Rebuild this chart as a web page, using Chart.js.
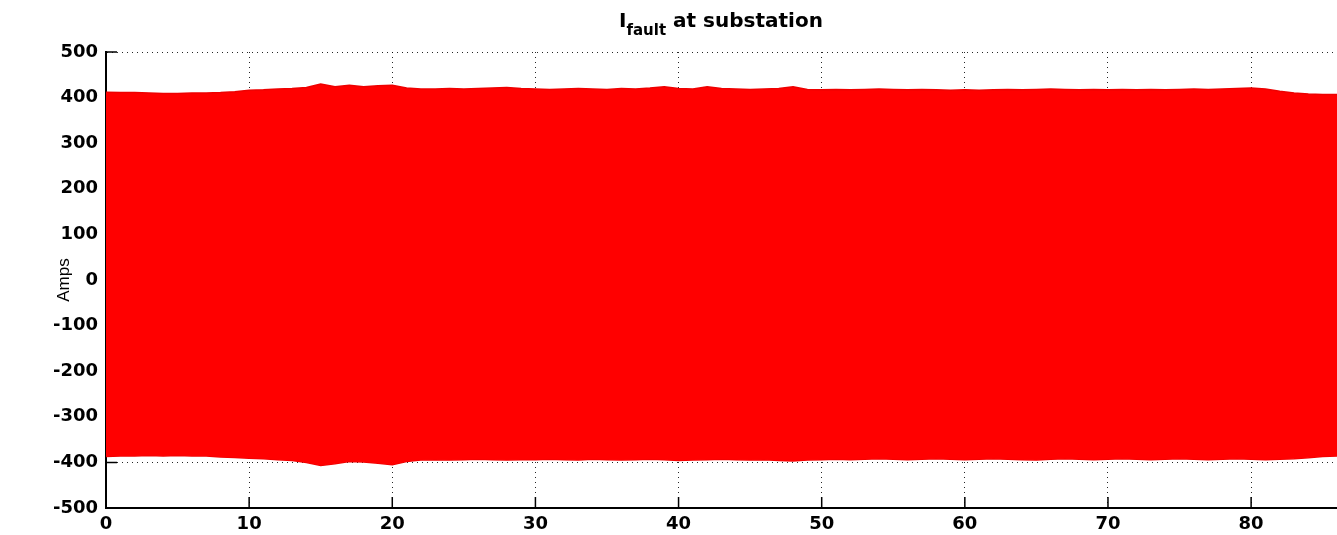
<!DOCTYPE html>
<html lang="en">
<head>
    <meta charset="UTF-8">
    <title>I fault at substation</title>
    <script src="https://cdn.jsdelivr.net/npm/chart.js"></script>
    <style>
        body {
            margin: 0;
            background-color: #ffffff;
            overflow: hidden;
        }
        .wrap {
            position: relative;
            width: 1337px;
            height: 535px;
        }
        .title {
            position: absolute;
            left: 619px;
            top: 8px;
            font: bold 20px 'DejaVu Sans', sans-serif;
            line-height: 24px;
            color: #000;
            white-space: nowrap;
        }
        .title sub {
            font-size: 15px;
            vertical-align: -8px;
        }
    </style>
</head>
<body>
    <div class="wrap">
        <canvas id="faultChart" width="1337" height="535"></canvas>
        <div class="title">I<sub>fault</sub> at substation</div>
    </div>

    <script>
        // time axis (s), one sample per second
        const timeSec = [
            0, 1, 2, 3, 4, 5, 6, 7, 8, 9,
            10, 11, 12, 13, 14, 15, 16, 17, 18, 19,
            20, 21, 22, 23, 24, 25, 26, 27, 28, 29,
            30, 31, 32, 33, 34, 35, 36, 37, 38, 39,
            40, 41, 42, 43, 44, 45, 46, 47, 48, 49,
            50, 51, 52, 53, 54, 55, 56, 57, 58, 59,
            60, 61, 62, 63, 64, 65, 66, 67, 68, 69,
            70, 71, 72, 73, 74, 75, 76, 77, 78, 79,
            80, 81, 82, 83, 84, 85, 86
        ];

        // positive peaks of the fault current (A)
        const peakUpper = [
            412, 411, 411, 410, 409, 409, 410, 410, 411, 413,
            416, 417, 419, 420, 422, 430, 424, 427, 424, 426,
            427, 421, 419, 419, 420, 419, 420, 421, 422, 420,
            419, 418, 419, 420, 419, 418, 420, 419, 421, 424,
            420, 419, 424, 420, 419, 418, 419, 420, 424, 418,
            417, 418, 417, 418, 419, 418, 417, 418, 417, 416,
            417, 416, 417, 418, 417, 418, 419, 418, 417, 418,
            417, 418, 417, 418, 417, 418, 419, 418, 419, 420,
            421, 419, 414, 410, 408, 407, 407
        ];

        // negative peaks of the fault current (A)
        const peakLower = [
            -387, -386, -386, -385, -386, -385, -386, -386, -388, -389,
            -391, -392, -394, -396, -400, -407, -403, -398, -399, -402,
            -405, -398, -395, -394, -395, -394, -393, -394, -395, -394,
            -394, -393, -394, -395, -393, -394, -395, -394, -393, -394,
            -396, -395, -394, -393, -394, -395, -394, -396, -397, -395,
            -394, -393, -394, -393, -392, -393, -394, -393, -392, -393,
            -394, -393, -392, -393, -394, -395, -393, -392, -393, -394,
            -393, -392, -393, -394, -393, -392, -393, -394, -393, -392,
            -393, -394, -393, -392, -390, -387, -386
        ];

        const xTicks = [0, 10, 20, 30, 40, 50, 60, 70, 80];
        const yTicks = [-500, -400, -300, -200, -100, 0, 100, 200, 300, 400, 500];

        const tickFont = { family: 'DejaVu Sans', size: 18, weight: 'bold' };

        // matlab style: short tick marks pointing into the plot, plus the y label
        const axisMarks = {
            id: 'axisMarks',
            beforeDatasetsDraw(chart) {
                const { ctx, chartArea: a, scales: { x, y } } = chart;
                ctx.save();
                ctx.strokeStyle = '#000';
                ctx.lineWidth = 1.5;
                ctx.beginPath();
                x.ticks.forEach(t => {
                    const px = x.getPixelForValue(t.value);
                    ctx.moveTo(px, a.bottom);
                    ctx.lineTo(px, a.bottom - 11);
                });
                y.ticks.forEach(t => {
                    const py = y.getPixelForValue(t.value);
                    ctx.moveTo(a.left, py);
                    ctx.lineTo(a.left + 11, py);
                });
                ctx.stroke();
                ctx.restore();
            },
            afterDraw(chart) {
                const { ctx, chartArea: a } = chart;
                ctx.save();
                ctx.translate(a.left - 37, (a.top + a.bottom) / 2);
                ctx.rotate(-Math.PI / 2);
                ctx.font = '17px "Liberation Sans", Arial, sans-serif';
                ctx.fillStyle = '#000';
                ctx.textAlign = 'center';
                ctx.textBaseline = 'alphabetic';
                ctx.fillText('Amps', 0, 0);
                ctx.restore();
            }
        };

        const config = {
            type: 'line',
            data: {
                datasets: [{
                    label: 'upper',
                    data: timeSec.map((t, i) => ({ x: t, y: peakUpper[i] })),
                    borderColor: '#ee0000',
                    borderWidth: 1.5,
                    backgroundColor: '#ff0000',
                    fill: '+1',
                    pointRadius: 0,
                    tension: 0
                }, {
                    label: 'lower',
                    data: timeSec.map((t, i) => ({ x: t, y: peakLower[i] })),
                    borderColor: '#ee0000',
                    borderWidth: 1.5,
                    backgroundColor: '#ff0000',
                    fill: false,
                    pointRadius: 0,
                    tension: 0
                }]
            },
            options: {
                responsive: false,
                animation: false,
                devicePixelRatio: 1,
                layout: { padding: { top: 52, left: 0, right: 0, bottom: 0 } },
                plugins: {
                    legend: { display: false },
                    tooltip: { enabled: false }
                },
                scales: {
                    x: {
                        type: 'linear',
                        min: 0,
                        max: 86,
                        afterBuildTicks: s => { s.ticks = xTicks.map(v => ({ value: v })); },
                        afterFit: s => { s.height = 27; },
                        ticks: {
                            padding: 6,
                            color: '#000',
                            font: tickFont,
                            maxRotation: 0,
                            callback: v => v
                        },
                        grid: {
                            color: 'rgba(0,0,0,0.85)',
                            lineWidth: 1,
                            drawTicks: false
                        },
                        border: { display: true, color: '#000', width: 2, dash: [1, 4] }
                    },
                    y: {
                        min: -500,
                        max: 500,
                        afterBuildTicks: s => { s.ticks = yTicks.map(v => ({ value: v })); },
                        afterFit: s => { s.width = 106; },
                        ticks: {
                            padding: 8,
                            color: '#000',
                            font: tickFont,
                            callback: v => v
                        },
                        grid: {
                            color: 'rgba(0,0,0,0.85)',
                            lineWidth: 1,
                            drawTicks: false
                        },
                        border: { display: true, color: '#000', width: 2, dash: [1, 4] }
                    }
                }
            },
            plugins: [axisMarks]
        };

        new Chart(document.getElementById('faultChart'), config);
    </script>
</body>
</html>
